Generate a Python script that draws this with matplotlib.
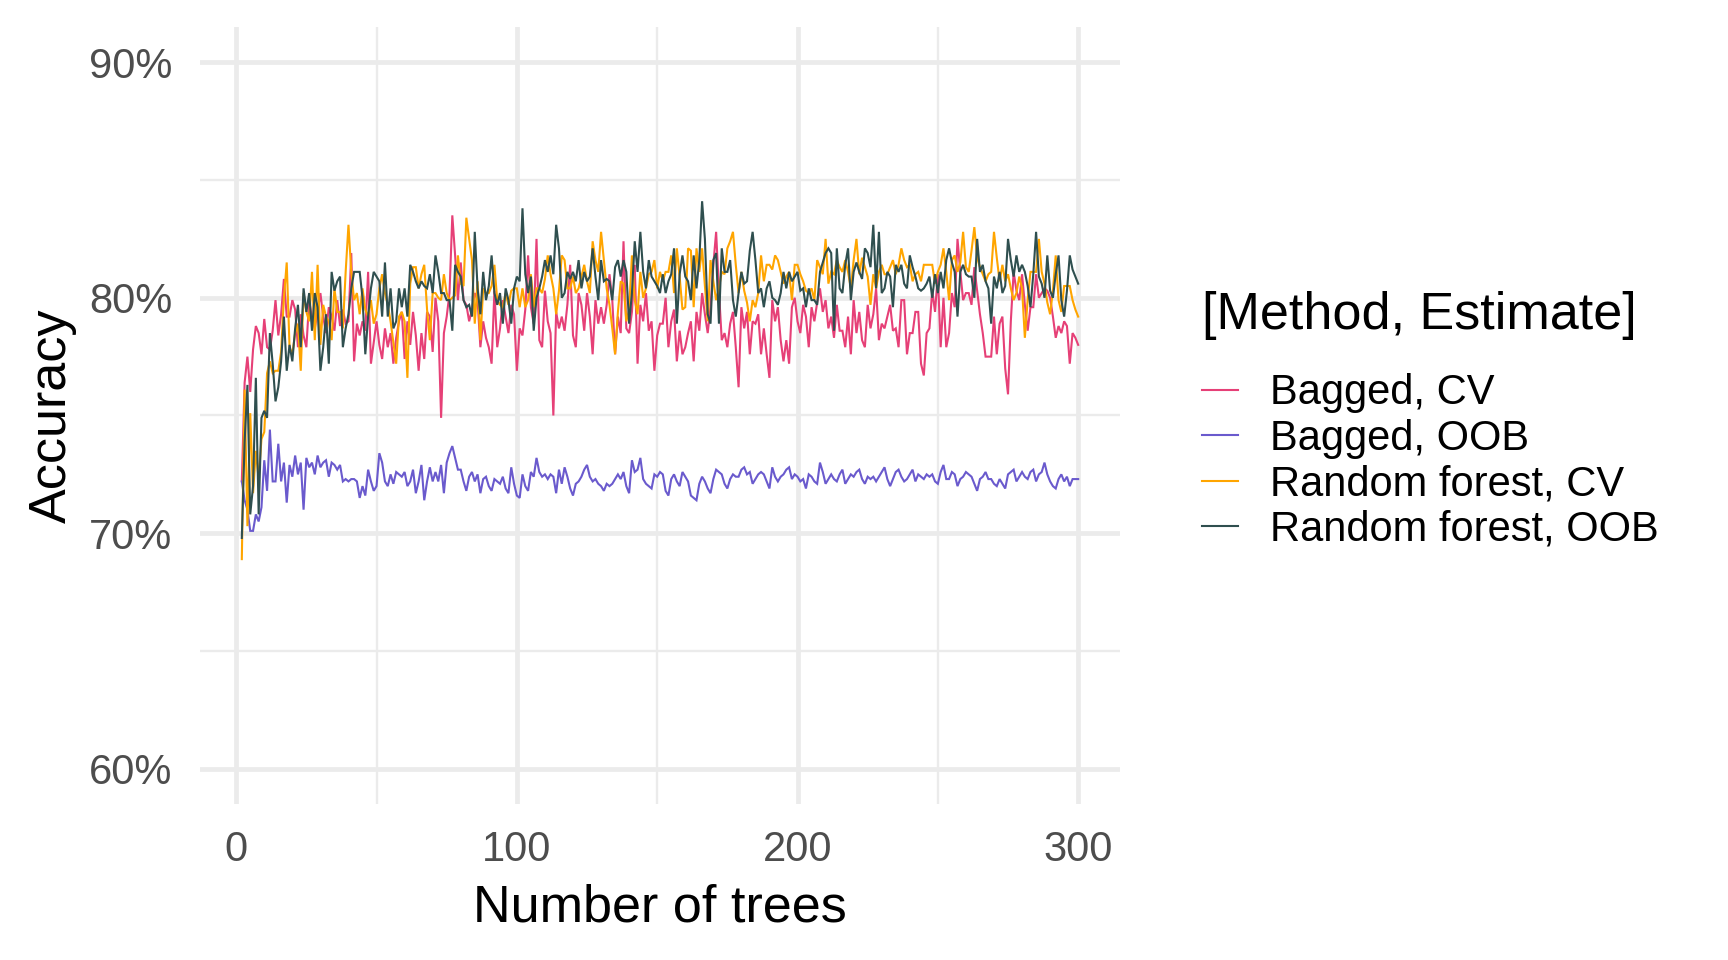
import matplotlib
matplotlib.use("Agg")
import matplotlib.pyplot as plt
from matplotlib.ticker import FixedLocator, FuncFormatter

plt.rcParams['font.family'] = ['Liberation Sans', 'DejaVu Sans']

# ---------------- data ----------------
trees = list(range(2, 301))
series_names = ["Bagged, CV", "Bagged, OOB", "Random forest, CV", "Random forest, OOB"]
series_colors = ["#E64077", "#6A5ACD", "#FFA500", "#2F4F4F"]

# accuracy in percent, trees 2..300
bagged_cv = [
    72.2, 76.4, 77.5, 76.0, 77.8, 78.8, 78.5, 77.6,
    79.1, 77.9, 77.8, 78.6, 79.9, 78.4, 79.3, 80.8, 79.2, 79.2,
    79.9, 79.5, 77.9, 79.3, 78.4, 77.9, 79.9, 79.1, 78.7, 79.4,
    80.2, 79.2, 78.5, 79.6, 79.2, 78.6, 79.9, 78.8, 79.5, 78.9,
    79.0, 81.9, 77.3, 78.9, 78.4, 79.0, 78.6, 81.1, 77.2, 78.1,
    79.0, 78.0, 77.4, 78.7, 77.9, 78.5, 77.2, 78.3, 79.0, 79.4,
    77.4, 79.0, 78.0, 79.4, 78.4, 76.9, 78.5, 77.4, 79.4, 79.2,
    77.7, 80.0, 79.0, 74.9, 78.5, 79.2, 80.2, 83.5, 81.8, 79.9,
    81.5, 79.9, 79.7, 79.0, 79.5, 80.2, 79.9, 77.9, 79.0, 78.3,
    77.9, 77.2, 80.3, 77.9, 78.7, 79.9, 79.2, 78.5, 79.7, 79.3,
    76.9, 78.7, 78.4, 79.5, 81.8, 79.6, 78.9, 82.5, 78.2, 77.9,
    80.3, 79.0, 78.5, 75.0, 79.4, 78.7, 79.2, 78.6, 79.7, 81.4,
    78.4, 77.9, 80.2, 79.7, 78.6, 80.2, 79.2, 77.6, 79.9, 78.9,
    79.6, 78.9, 79.7, 81.0, 79.9, 77.6, 79.2, 78.5, 82.4, 78.7,
    78.5, 79.4, 81.4, 77.2, 79.7, 79.0, 80.2, 78.6, 79.0, 76.9,
    78.4, 78.9, 78.9, 80.0, 77.9, 79.0, 79.5, 77.3, 78.6, 77.6,
    77.9, 78.5, 79.0, 77.3, 79.4, 78.6, 80.2, 79.3, 78.5, 79.6,
    81.4, 82.8, 80.3, 78.2, 78.5, 77.9, 78.9, 79.4, 77.9, 76.2,
    79.6, 78.7, 79.4, 77.6, 79.0, 78.9, 79.3, 77.6, 78.7, 77.6,
    76.6, 79.9, 79.0, 79.6, 78.2, 77.3, 78.2, 77.2, 79.6, 80.0,
    79.0, 78.5, 79.7, 79.2, 77.9, 79.6, 79.0, 79.8, 80.4, 79.4,
    79.9, 78.7, 79.2, 78.3, 79.7, 78.6, 78.6, 77.9, 79.2, 77.6,
    79.9, 78.5, 79.4, 78.2, 77.9, 79.7, 78.7, 79.3, 80.4, 78.2,
    78.9, 78.7, 79.2, 79.7, 78.6, 78.7, 77.9, 79.9, 79.9, 77.6,
    78.5, 78.5, 79.4, 79.4, 77.2, 76.7, 78.5, 78.7, 80.3, 79.4,
    81.0, 77.9, 80.0, 77.9, 78.5, 80.2, 79.6, 82.5, 81.1, 79.9,
    80.2, 80.2, 79.7, 81.3, 80.3, 79.3, 78.5, 77.5, 77.5, 77.5,
    79.2, 77.6, 78.9, 79.2, 77.0, 75.9, 79.0, 81.1, 80.3, 79.9,
    81.0, 79.7, 78.6, 79.6, 79.6, 81.0, 80.0, 80.2, 80.4, 80.3,
    80.0, 79.2, 78.3, 78.8, 78.5, 79.0, 78.8, 77.2, 78.5, 78.3, 78.0,
]

bagged_oob = [
    72.2, 71.4, 71.0, 70.1, 70.1, 70.8, 70.5, 71.1,
    73.1, 71.8, 74.4, 72.2, 72.2, 73.8, 72.2, 73.0, 71.3, 72.9,
    72.4, 73.3, 72.5, 73.0, 71.0, 73.2, 72.8, 73.0, 72.5, 73.3,
    72.8, 73.0, 73.1, 72.4, 73.0, 72.9, 72.7, 72.9, 72.2, 72.3,
    72.2, 72.3, 72.3, 72.2, 71.5, 72.0, 71.6, 72.7, 72.2, 71.8,
    72.0, 73.4, 73.0, 72.2, 72.0, 72.5, 72.1, 72.6, 72.5, 72.4,
    72.6, 72.0, 72.2, 72.7, 71.7, 72.2, 72.9, 71.4, 72.2, 72.8,
    72.2, 72.6, 72.2, 72.9, 71.7, 73.0, 73.4, 73.7, 73.2, 72.7,
    72.7, 72.2, 71.8, 72.4, 72.6, 72.2, 72.5, 71.7, 72.3, 72.4,
    72.0, 71.8, 72.3, 72.2, 72.1, 72.4, 71.9, 71.7, 72.8, 72.1,
    71.6, 71.5, 72.5, 72.0, 71.8, 72.6, 72.4, 73.2, 72.6, 72.4,
    72.5, 72.3, 72.5, 72.4, 71.7, 72.7, 72.1, 72.8, 72.4, 71.9,
    71.6, 72.1, 72.2, 72.4, 72.7, 72.9, 72.4, 72.2, 72.3, 72.1,
    72.0, 71.8, 72.1, 72.0, 72.1, 72.3, 72.5, 72.3, 72.6, 72.0,
    71.7, 73.1, 72.6, 72.7, 73.2, 72.3, 72.1, 72.0, 71.9, 72.5,
    72.4, 72.6, 72.5, 71.8, 71.6, 72.3, 72.5, 72.2, 72.0, 72.6,
    72.4, 72.2, 71.6, 71.5, 71.4, 72.1, 72.4, 72.2, 71.9, 71.7,
    72.3, 72.7, 72.6, 72.5, 72.1, 71.9, 72.3, 72.5, 72.4, 72.4,
    72.7, 72.8, 72.5, 72.6, 72.1, 72.3, 72.5, 72.6, 72.5, 72.2,
    71.9, 72.8, 72.4, 72.2, 72.4, 72.5, 72.7, 72.8, 72.3, 72.5,
    72.4, 72.2, 72.3, 71.9, 72.5, 72.4, 72.2, 72.1, 73.0, 72.6,
    72.1, 72.3, 72.5, 72.3, 72.2, 72.5, 72.7, 72.1, 72.3, 72.5,
    72.4, 72.6, 72.7, 72.3, 72.1, 72.4, 72.3, 72.4, 72.2, 72.4,
    72.6, 72.8, 72.3, 72.0, 72.3, 72.6, 72.7, 72.4, 72.2, 72.3,
    72.5, 72.7, 72.2, 72.5, 72.4, 72.3, 72.5, 72.4, 72.5, 72.2,
    72.1, 72.6, 72.9, 72.3, 72.3, 72.6, 72.5, 72.0, 72.3, 72.4,
    72.6, 72.5, 72.4, 72.1, 71.8, 72.3, 72.4, 72.6, 72.3, 72.3,
    72.1, 72.0, 72.3, 72.1, 71.9, 72.5, 72.6, 72.7, 72.2, 72.4,
    72.6, 72.4, 72.3, 72.6, 72.7, 72.2, 72.5, 72.6, 73.0, 72.5,
    72.2, 72.0, 71.9, 72.3, 72.5, 72.2, 72.4, 72.0, 72.3, 72.3, 72.3,
]

rf_cv = [
    68.9, 76.1, 70.3, 75.1, 71.7, 73.5, 72.3, 74.0,
    74.3, 76.8, 77.3, 76.8, 76.9, 76.9, 77.7, 80.0, 81.5, 77.9,
    77.6, 78.5, 78.9, 76.9, 80.2, 79.4, 79.0, 81.1, 78.2, 81.4,
    78.0, 79.7, 79.2, 79.0, 78.2, 80.4, 79.4, 79.4, 78.7, 81.1,
    83.1, 81.1, 79.9, 80.2, 79.3, 80.4, 79.5, 79.2, 79.9, 78.9,
    79.3, 80.4, 81.0, 80.2, 79.7, 79.0, 78.1, 77.2, 79.2, 79.4,
    79.0, 76.6, 80.6, 81.3, 81.3, 80.4, 81.0, 81.4, 79.5, 78.2,
    80.2, 80.2, 80.0, 79.9, 81.0, 80.2, 79.9, 80.0, 80.1, 81.8,
    80.6, 80.5, 83.4, 82.5, 81.6, 78.9, 80.7, 78.2, 80.4, 80.2,
    80.2, 80.5, 81.4, 79.9, 79.7, 79.6, 80.2, 79.7, 80.3, 80.4,
    80.4, 79.6, 80.4, 79.6, 79.9, 81.0, 79.6, 80.4, 80.4, 80.2,
    80.8, 81.8, 81.0, 80.4, 79.3, 80.3, 81.8, 81.6, 80.4, 80.4,
    80.9, 80.2, 80.4, 80.9, 81.4, 80.7, 80.2, 82.4, 81.6, 81.1,
    82.8, 81.6, 80.4, 79.7, 78.7, 77.6, 79.4, 80.7, 80.6, 79.0,
    79.5, 81.8, 79.9, 79.3, 81.1, 80.0, 80.4, 81.0, 81.1, 81.6,
    80.4, 81.1, 80.7, 81.1, 81.1, 81.8, 80.2, 82.1, 80.9, 79.5,
    79.6, 82.1, 82.0, 79.6, 82.1, 81.1, 82.1, 80.5, 79.0, 81.6,
    80.7, 79.9, 80.4, 81.1, 81.0, 82.1, 82.4, 82.8, 81.4, 80.2,
    81.1, 80.3, 79.8, 79.0, 79.9, 79.6, 80.2, 81.8, 80.7, 81.4,
    81.4, 81.2, 81.8, 81.6, 81.1, 80.6, 80.9, 81.1, 79.9, 81.4,
    81.4, 81.0, 80.7, 80.3, 80.2, 80.4, 79.9, 81.6, 81.3, 81.0,
    82.5, 80.6, 81.1, 81.0, 81.6, 81.3, 81.1, 81.6, 81.1, 80.4,
    81.6, 82.5, 81.0, 81.7, 81.3, 80.9, 79.7, 81.0, 80.4, 81.1,
    81.4, 81.0, 81.0, 81.3, 81.6, 81.0, 81.4, 82.1, 81.6, 81.3,
    81.4, 80.7, 81.0, 81.1, 80.7, 81.4, 81.4, 81.4, 81.4, 80.6,
    81.1, 81.4, 82.1, 81.1, 79.9, 81.6, 81.8, 81.1, 81.5, 82.8,
    81.3, 81.1, 82.0, 83.0, 81.7, 81.3, 81.0, 80.7, 81.0, 81.1,
    82.8, 81.7, 80.7, 81.4, 80.7, 81.0, 80.4, 79.9, 80.2, 80.9,
    80.4, 78.3, 79.9, 81.1, 81.1, 81.1, 82.5, 81.1, 80.6, 79.8,
    79.3, 80.3, 81.8, 79.9, 79.4, 80.5, 80.5, 80.5, 79.9, 79.5, 79.2,
]

rf_oob = [
    69.8, 73.9, 76.3, 70.8, 72.0, 76.6, 70.8, 74.9,
    75.2, 74.9, 78.5, 77.2, 75.6, 76.2, 77.3, 79.2, 76.9, 78.0,
    77.3, 78.7, 79.7, 77.9, 80.4, 79.4, 80.2, 78.6, 80.2, 79.6,
    76.9, 77.9, 79.3, 77.2, 81.1, 80.3, 80.7, 80.9, 77.9, 78.7,
    79.3, 80.4, 81.1, 81.1, 81.1, 80.0, 77.6, 79.2, 80.4, 81.1,
    80.9, 80.7, 79.2, 81.5, 79.2, 80.4, 78.7, 79.0, 80.4, 79.6,
    80.4, 79.2, 81.4, 81.1, 80.7, 80.4, 80.7, 80.5, 80.4, 81.0,
    80.2, 81.8, 81.1, 80.2, 80.2, 79.9, 79.9, 78.6, 81.4, 81.1,
    80.9, 79.9, 79.6, 79.7, 79.2, 82.8, 80.4, 79.3, 81.1, 79.9,
    80.5, 81.8, 80.2, 79.7, 80.2, 78.9, 80.4, 79.9, 78.9, 80.4,
    80.9, 80.7, 83.8, 81.0, 80.2, 80.9, 78.6, 80.0, 80.4, 80.9,
    81.6, 81.1, 81.8, 81.0, 83.1, 82.1, 80.0, 80.2, 81.1, 80.8,
    81.1, 80.7, 81.6, 80.4, 81.1, 80.7, 80.9, 82.1, 80.9, 79.9,
    81.6, 80.7, 80.8, 80.7, 79.9, 81.3, 81.6, 80.9, 81.6, 81.1,
    78.9, 80.2, 82.4, 81.1, 82.8, 81.1, 80.4, 81.6, 80.9, 80.7,
    80.5, 80.2, 81.0, 80.2, 80.7, 81.0, 82.1, 78.9, 81.0, 81.8,
    80.9, 80.7, 79.9, 81.8, 80.4, 81.6, 84.1, 82.5, 79.3, 78.9,
    81.6, 81.9, 78.9, 82.1, 81.1, 81.1, 81.6, 79.9, 79.2, 80.2,
    81.1, 80.6, 80.7, 82.0, 82.8, 81.6, 80.2, 80.4, 79.6, 80.4,
    80.7, 80.0, 79.9, 79.7, 80.2, 81.1, 80.4, 81.1, 80.7, 80.9,
    81.1, 80.3, 80.4, 79.6, 80.4, 79.9, 79.9, 79.7, 81.1, 81.5,
    81.9, 82.1, 81.9, 78.6, 82.1, 80.4, 80.2, 81.4, 82.1, 79.9,
    81.1, 81.5, 81.1, 80.8, 82.1, 81.9, 81.3, 83.1, 80.4, 82.8,
    80.2, 80.4, 81.1, 80.9, 79.6, 81.4, 81.1, 81.4, 80.6, 80.4,
    81.8, 81.3, 80.9, 80.4, 80.3, 80.4, 80.6, 80.9, 80.0, 81.0,
    80.2, 81.1, 80.4, 81.6, 82.1, 81.5, 81.1, 79.2, 81.1, 81.4,
    81.0, 80.9, 80.9, 80.0, 82.5, 81.1, 81.4, 80.7, 80.4, 78.9,
    80.9, 80.4, 81.1, 80.2, 80.5, 82.5, 81.6, 80.9, 81.8, 81.1,
    81.4, 81.1, 80.5, 79.6, 81.0, 82.8, 80.9, 80.6, 80.0, 81.8,
    80.3, 80.0, 81.0, 81.8, 79.9, 79.2, 80.3, 81.8, 81.2, 80.9, 80.6,
]

all_series = [bagged_cv, bagged_oob, rf_cv, rf_oob]

x_major = [0, 100, 200, 300]
x_minor = [50, 150, 250]
y_major = [0.6, 0.7, 0.8, 0.9]
y_minor = [0.65, 0.75, 0.85]

# ---------------- figure ----------------
W, H = 1728, 960
fig = plt.figure(figsize=(W / 100, H / 100), dpi=100)
ax = fig.add_axes([200 / W, 1 - 804 / H, 920 / W, 777 / H])

for vals, name, col in zip(all_series, series_names, series_colors):
    n = len(vals)
    ax.plot(trees[:n], [v / 100 for v in vals], color=col, lw=1.5,
            label=name, solid_joinstyle='miter')

span = trees[-1] - trees[0]
ax.set_xlim(trees[0] - 0.05 * span, trees[-1] + 0.05 * span)
ax.set_ylim(0.6 - 0.015, 0.9 + 0.015)

ax.xaxis.set_major_locator(FixedLocator(x_major))
ax.xaxis.set_minor_locator(FixedLocator(x_minor))
ax.yaxis.set_major_locator(FixedLocator(y_major))
ax.yaxis.set_minor_locator(FixedLocator(y_minor))
ax.yaxis.set_major_formatter(FuncFormatter(lambda v, p: f"{v * 100:.0f}%"))

ax.set_axisbelow(True)
ax.grid(which='major', color='#EBEBEB', lw=3.4)
ax.grid(which='minor', color='#EBEBEB', lw=1.7)
for s in ax.spines.values():
    s.set_visible(False)
ax.tick_params(which='both', length=0)
ax.tick_params(axis='x', which='major', pad=19, labelsize=30, labelcolor='#4D4D4D')
ax.tick_params(axis='y', which='major', pad=20, labelsize=30, labelcolor='#4D4D4D')

ax.set_xlabel("Number of trees", fontsize=37.5, color='black')
ax.set_ylabel("Accuracy", fontsize=37.5, color='black')
ax.xaxis.set_label_coords(0.5, -(884 - 804) / 777)
ax.yaxis.set_label_coords((77 - 200) / 920, 0.5)

leg = ax.legend(loc='upper left', bbox_to_anchor=(1202 / W, 1 - 291 / H),
                bbox_transform=fig.transFigure, frameon=False,
                title="[Method, Estimate]", title_fontsize=37.5, fontsize=30,
                handlelength=0.86, handletextpad=0.77, labelspacing=0.13,
                borderpad=0, borderaxespad=0, alignment='left')
leg._legend_box.sep = 24
for line in leg.get_lines():
    line.set_linewidth(1.5)

fig.savefig("out.png", dpi=100)
